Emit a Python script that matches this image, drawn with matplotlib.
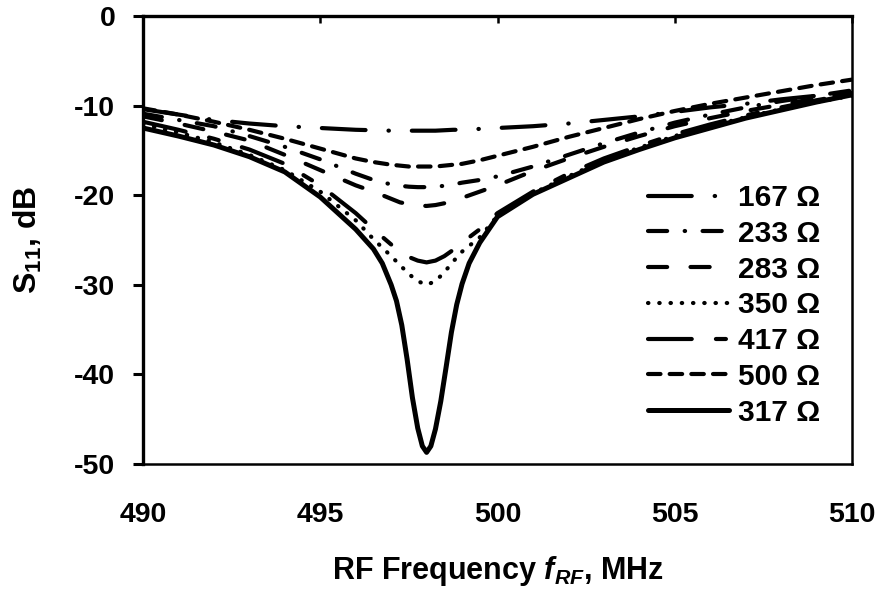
import matplotlib
matplotlib.use("Agg")
from matplotlib import pyplot as plt

plt.rcParams["font.family"] = ["Liberation Sans", "DejaVu Sans"]
plt.rcParams["font.weight"] = "bold"
plt.rcParams["mathtext.fontset"] = "custom"
plt.rcParams["mathtext.rm"] = "Liberation Sans:bold"
plt.rcParams["mathtext.it"] = "Liberation Sans:bold:italic"
plt.rcParams["mathtext.bf"] = "Liberation Sans:bold"

# frequency grid, MHz
freq = [490, 491, 492, 493, 494, 495, 496, 496.5, 497, 497.25, 497.5, 497.75,
        498, 498.25, 498.5, 498.75, 499, 499.5, 500, 501, 502, 503, 504, 505,
        506, 507, 508, 509, 510]

# S11 in dB
s11_167 = [-10.4, -11.0, -11.6, -12.0, -12.3, -12.5, -12.7, -12.75, -12.8, -12.8,
           -12.8, -12.8, -12.8, -12.8, -12.75, -12.7, -12.7, -12.6, -12.5, -12.3,
           -12.0, -11.6, -11.2, -10.7, -10.2, -9.8, -9.3, -8.9, -8.5]
s11_233 = [-10.9, -11.6, -12.3, -13.4, -14.6, -16.0, -17.6, -18.3, -18.8, -18.95,
           -19.05, -19.1, -19.1, -19.05, -18.95, -18.8, -18.6, -18.3, -17.9, -16.8,
           -15.5, -14.2, -13.0, -11.9, -11.0, -10.2, -9.5, -8.9, -8.3]
s11_283 = [-11.2, -12.0, -12.9, -13.9, -15.5, -17.2, -18.9, -19.6, -20.4, -20.8,
           -21.0, -21.15, -21.2, -21.1, -20.9, -20.6, -20.3, -19.6, -18.9, -17.3,
           -15.9, -14.6, -13.4, -12.3, -11.4, -10.6, -9.9, -9.2, -8.6]
s11_350 = [-12.1, -13.0, -14.1, -15.5, -17.2, -19.6, -22.8, -24.9, -26.8, -27.8,
           -28.8, -29.6, -30.0, -29.6, -28.6, -27.4, -26.3, -24.7, -22.3, -19.8,
           -17.9, -16.1, -14.7, -13.4, -12.3, -11.3, -10.4, -9.6, -8.9]
s11_417 = [-11.8, -12.7, -13.7, -14.9, -16.5, -18.9, -22.0, -23.8, -25.5, -26.3,
           -26.9, -27.3, -27.5, -27.3, -26.8, -26.1, -25.3, -23.8, -22.0, -19.6,
           -17.6, -15.9, -14.5, -13.2, -12.1, -11.1, -10.2, -9.4, -8.7]
s11_500 = [-10.3, -11.0, -11.8, -12.7, -13.7, -14.8, -15.9, -16.3, -16.6, -16.7,
           -16.8, -16.8, -16.8, -16.8, -16.7, -16.6, -16.5, -16.1, -15.6, -14.6,
           -13.5, -12.5, -11.5, -10.6, -9.8, -9.1, -8.4, -7.7, -7.1]

# the 317 ohm curve has a sharp dip, so it gets its own finer grid
freq_317 = [490, 491, 492, 493, 494, 495, 496, 496.5, 496.75, 497, 497.15, 497.3,
            497.45, 497.6, 497.75, 497.88, 498, 498.12, 498.25, 498.4, 498.55,
            498.7, 498.85, 499, 499.2, 499.5, 500, 501, 502, 503, 504, 505, 506,
            507, 508, 509, 510]
s11_317 = [-12.5, -13.4, -14.4, -15.7, -17.4, -20.2, -23.8, -26.0, -27.6, -30.0,
           -31.8, -34.5, -38.3, -42.6, -46.0, -48.0, -48.7, -48.0, -46.1, -43.0,
           -39.2, -35.3, -32.2, -29.9, -27.6, -25.3, -22.4, -19.9, -18.1, -16.3,
           -14.9, -13.6, -12.5, -11.4, -10.5, -9.6, -8.8]

labels = ["167 Ω", "233 Ω", "283 Ω", "350 Ω", "417 Ω", "500 Ω", "317 Ω"]
series = [(freq, s11_167), (freq, s11_233), (freq, s11_283), (freq, s11_350),
          (freq, s11_417), (freq, s11_500), (freq_317, s11_317)]
dashes = [(10.5, 5.5, 0.1, 5.5),
          (4.6, 4.2, 0.1, 4.2),
          (4.6, 5.6),
          (0.1, 2.6),
          (10.5, 5.8, 2.4, 5.8),
          (3.0, 2.2),
          None]

fig = plt.figure(figsize=(8.81, 5.9), dpi=100)
ax = fig.add_axes([143 / 881, 1 - 464 / 590, 709 / 881, 448 / 590])

for (f, vals), lab, d in zip(series, labels, dashes):
    if d is None:
        ax.plot(f, vals, color="black", lw=3.6, label=lab,
                solid_capstyle="round", solid_joinstyle="round")
    else:
        ax.plot(f, vals, color="black", lw=3.0, label=lab,
                dashes=d, dash_capstyle="round", dash_joinstyle="round")

ax.set_xlim(490, 510)
ax.set_ylim(-50, 0)
ax.set_xticks([490, 495, 500, 505, 510])
ax.set_yticks([0, -10, -20, -30, -40, -50])
ax.set_yticklabels(["0", "-10", "-20", "-30", "-40", "-50"])

for side in ["top", "left"]:
    ax.spines[side].set_linewidth(2.4)
for side in ["bottom", "right"]:
    ax.spines[side].set_linewidth(1.8)

ax.tick_params(axis="x", top=True, bottom=False, labeltop=False,
               labelbottom=True, direction="in", length=5, width=1.8,
               pad=27, labelsize=20.5)
ax.tick_params(axis="y", direction="out", length=7, width=2.2, pad=13,
               labelsize=20.5)

ax.set_xlabel(r"RF Frequency $f_{RF}$, MHz", fontsize=22, fontweight="bold")
ax.xaxis.set_label_coords(0.5, -0.2)
ax.set_ylabel(r"S$_{11}$, dB", fontsize=23, fontweight="bold")
ax.yaxis.set_label_coords(-0.14, 0.5)

ax.legend(loc="upper right", bbox_to_anchor=(820 / 881, 1 - 184 / 590),
          bbox_transform=fig.transFigure, frameon=False, fontsize=21.5,
          handlelength=2.7, handletextpad=0.3, labelspacing=0.26,
          borderpad=0, borderaxespad=0)

fig.savefig("out.png", dpi=100)
